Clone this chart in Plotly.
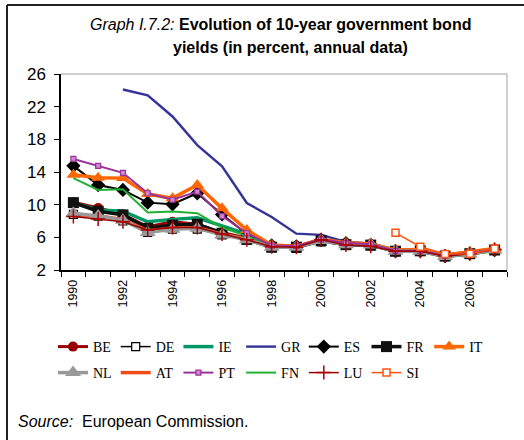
import plotly.graph_objects as go

years = list(range(1990, 2008))

BE = [10.3, 9.6, 8.8, 7.3, 7.9, 7.6, 6.6, 5.9, 4.9, 4.9, 5.75, 5.25, 5.05, 4.35, 4.4, 3.75, 4.0, 4.5]
DE = [8.8, 8.6, 8.0, 6.6, 7.0, 7.0, 6.3, 5.7, 4.7, 4.65, 5.45, 5.0, 4.95, 4.25, 4.3, 3.65, 3.95, 4.4]
IE = [10.2, 9.35, 9.2, 7.9, 8.2, 8.4, 7.4, 6.4, 4.95, 4.85, 5.65, 5.2, 5.15, 4.3, 4.3, 3.65, 3.95, 4.45]
GR = [None, None, 24.1, 23.4, 20.8, 17.3, 14.7, 10.2, 8.5, 6.45, 6.3, 5.45, 5.25, 4.45, 4.5, 3.9, 4.25, 4.65]
ES = [14.75, 12.4, 11.8, 10.25, 10.05, 11.4, 8.8, 6.4, 5.0, 4.9, 5.7, 5.3, 5.1, 4.3, 4.35, 3.7, 4.0, 4.45]
FR = [10.25, 9.2, 8.75, 7.1, 7.5, 7.6, 6.5, 5.75, 4.8, 4.8, 5.6, 5.1, 5.05, 4.3, 4.35, 3.7, 4.0, 4.45]
IT = [13.65, 13.3, 13.25, 11.3, 10.8, 12.4, 9.55, 6.9, 5.05, 4.9, 5.75, 5.35, 5.2, 4.45, 4.5, 3.85, 4.25, 4.65]
NL = [8.95, 8.6, 8.1, 6.6, 7.0, 7.1, 6.3, 5.7, 4.8, 4.8, 5.6, 5.1, 5.05, 4.3, 4.3, 3.65, 3.95, 4.45]
AT = [8.75, 8.6, 8.2, 6.8, 7.1, 7.2, 6.4, 5.8, 4.85, 4.85, 5.7, 5.2, 5.1, 4.3, 4.35, 3.7, 4.0, 4.45]
PT = [15.6, 14.75, 13.9, 11.4, 10.6, 11.6, 8.6, 6.5, 5.0, 4.95, 5.75, 5.3, 5.15, 4.35, 4.35, 3.75, 4.1, 4.55]
FN = [13.25, 11.8, 11.9, 9.05, 9.15, 8.95, 7.2, 6.15, 4.95, 4.85, 5.65, 5.2, 5.1, 4.3, 4.3, 3.65, 3.95, 4.45]
LU = [8.55, 8.25, 7.9, 6.9, 7.2, 7.2, 6.4, 5.7, 4.85, 4.8, 5.7, 5.05, 4.9, 4.3, 4.3, 3.7, 4.0, 4.5]
SI = [None] * 13 + [6.55, 4.85, 3.95, 4.0, 4.6]

y_ticks = [2, 6, 10, 14, 18, 22, 26]
x_label_years = list(range(1990, 2007, 2))
x_boundaries = [y - 0.5 for y in range(1990, 2009)]

# (name, data, line color, line width, marker dict or None, legend, rank)
series = [
    ("BE", BE, "#990000", 3, dict(symbol="circle", size=10, color="#990000"), "legend", 1),
    ("DE", DE, "#000000", 1.5, dict(symbol="square", size=8, color="white", line=dict(color="black", width=1.2)), "legend", 2),
    ("IE", IE, "#009966", 3.5, None, "legend", 3),
    ("GR", GR, "#333399", 2.4, None, "legend", 4),
    ("ES", ES, "#000000", 2, dict(symbol="diamond", size=11, color="#000000"), "legend", 5),
    ("FR", FR, "#111111", 3.5, dict(symbol="square", size=11, color="#111111"), "legend", 6),
    ("IT", IT, "#FF6600", 3.5, dict(symbol="triangle-up", size=12, color="#FF6600"), "legend", 7),
    ("AT", AT, "#F04A18", 3.5, None, "legend2", 2),
    ("FN", FN, "#22B033", 2, None, "legend2", 4),
    ("NL", NL, "#999999", 3.5, dict(symbol="triangle-up", size=14, color="#999999"), "legend2", 1),
    ("PT", PT, "#993399", 2, dict(symbol="square", size=5, color="#CC88CC", line=dict(color="#993399", width=1.2)), "legend2", 3),
    ("LU", LU, "#990000", 1.5, dict(symbol="cross-thin", size=10, color="#990000", line=dict(color="#AA0000", width=1.5)), "legend2", 5),
    ("SI", SI, "#FF5511", 1.5, dict(symbol="square", size=7, color="white", line=dict(color="#FF5511", width=1.5)), "legend2", 6),
]

fig = go.Figure()
for name, vals, col, lw, mk, leg, rank in series:
    kw = dict(x=years, y=vals, name=name, legend=leg, legendrank=rank,
              line=dict(color=col, width=lw), connectgaps=False)
    if mk is None:
        kw["mode"] = "lines"
    else:
        kw["mode"] = "lines+markers"
        kw["marker"] = mk
    fig.add_trace(go.Scatter(**kw))

L, R, T, B = 61, 17, 74, 170
W, H = 524, 440
pw, ph = W - L - R, H - T - B

def px(x):
    return (x - L) / pw

def py(y):
    return (H - B - y) / ph

legend_common = dict(orientation="h", xanchor="left", yanchor="middle",
                     entrywidth=17.7, entrywidthmode="pixels",
                     font=dict(family="Liberation Serif, Times New Roman, serif", size=14, color="black"),
                     bgcolor="rgba(0,0,0,0)", itemclick=False)

fig.update_layout(
    width=W, height=H,
    margin=dict(l=L, r=R, t=T, b=B),
    paper_bgcolor="white", plot_bgcolor="white",
    hovermode=False,
    font=dict(family="Liberation Sans, Arial, sans-serif", color="black"),
    legend=dict(x=px(53), y=py(347), **legend_common),
    legend2=dict(x=px(53), y=py(373), **legend_common),
    xaxis=dict(
        range=[1989.5, 2007.5], tickmode="array", tickvals=x_label_years,
        ticktext=[str(v) for v in x_label_years], ticks="", tickangle=-90,
        tickfont=dict(family="Liberation Sans, Arial, sans-serif", size=12.5, color="black"),
        ticklabelstandoff=3,
        showline=True, linecolor="black", linewidth=1.5, showgrid=False, zeroline=False,
        minor=dict(tickmode="array", tickvals=x_boundaries, ticks="outside", ticklen=5,
                   tickcolor="black", tickwidth=1, showgrid=False),
    ),
    yaxis=dict(
        range=[2, 26], tickmode="array", tickvals=y_ticks, ticks="outside", ticklen=5,
        tickcolor="black", tickwidth=1, ticklabelstandoff=5,
        tickfont=dict(size=17, color="black"),
        showline=True, linecolor="black", linewidth=1.5, showgrid=False, zeroline=False,
    ),
    shapes=[
        dict(type="line", xref="paper", yref="paper", x0=0, x1=1, y0=1, y1=1,
             line=dict(color="#A0A0A0", width=1), layer="below"),
        dict(type="line", xref="paper", yref="paper", x0=1, x1=1, y0=0, y1=1,
             line=dict(color="#A0A0A0", width=1), layer="below"),
        dict(type="line", xref="paper", yref="paper", x0=px(7), x1=px(524), y0=py(5), y1=py(5),
             line=dict(color="#222222", width=2), layer="above"),
        dict(type="line", xref="paper", yref="paper", x0=px(7), x1=px(7), y0=py(5), y1=py(440),
             line=dict(color="#222222", width=2), layer="above"),
    ],
    annotations=[
        dict(text="<i>Graph I.7.2:</i> <b>Evolution of 10-year government bond</b>",
             xref="paper", yref="paper", x=px(280), y=py(24), xanchor="center", yanchor="middle",
             showarrow=False, font=dict(size=16, color="black")),
        dict(text="<b>yields (in percent, annual data)</b>",
             xref="paper", yref="paper", x=px(290.5), y=py(47), xanchor="center", yanchor="middle",
             showarrow=False, font=dict(size=16, color="black")),
        dict(text="<i>Source:</i>  European Commission.",
             xref="paper", yref="paper", x=px(16), y=py(421), xanchor="left", yanchor="middle",
             showarrow=False, font=dict(size=16, color="black")),
    ],
)

fig.write_html("out.html", config={"displayModeBar": False},
               post_script="document.body.style.margin='0';document.body.style.padding='0';")
